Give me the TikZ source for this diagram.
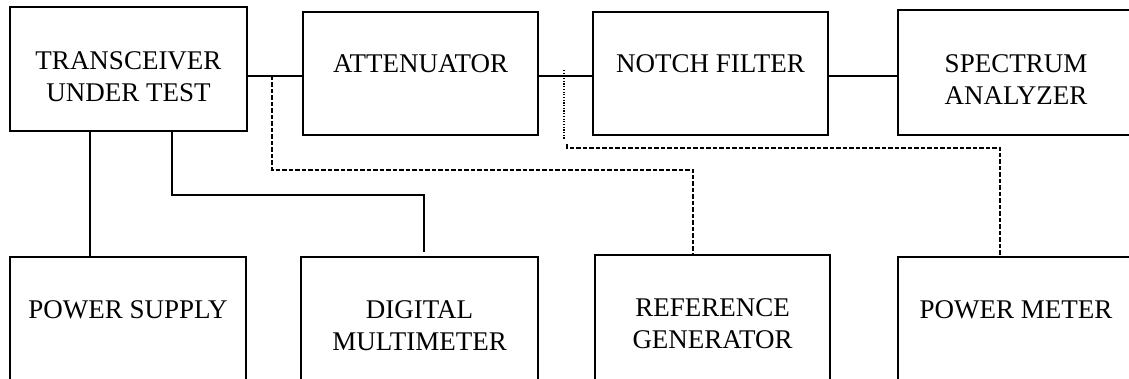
\documentclass[tikz,border=0pt]{standalone}
\usepackage{fontspec}
\setmainfont{Liberation Serif}
\begin{document}
\begin{tikzpicture}[x=1pt,y=-1pt,
  box/.style={draw=black,line width=1.3pt,rectangle,inner sep=0pt},
  lbl/.style={anchor=north,inner sep=0pt,align=center,text=black,
    font=\fontsize{27}{31.8}\selectfont},
  wire/.style={draw=black,line width=1.3pt},
  dashline/.style={draw=black,line width=1.3pt,dash pattern=on 4.5pt off 2pt},
  dotline/.style={draw=black,line width=1.3pt,dash pattern=on 1.2pt off 1.5pt}]
\useasboundingbox (0,0) rectangle (1129,379);
\clip (0,0) rectangle (1129,379);
% boxes
\node[box,minimum width=237pt,minimum height=124pt] (tx) at (128.5,69) {};
\node[box,minimum width=235pt,minimum height=123pt] (att) at (420.5,73.5) {};
\node[box,minimum width=235pt,minimum height=123pt] (nf) at (710.5,73.5) {};
\node[box,minimum width=236pt,minimum height=125pt] (sa) at (1016,72.5) {};
\node[box,minimum width=236pt,minimum height=143pt] (ps) at (128,328.5) {};
\node[box,minimum width=237pt,minimum height=143pt] (dm) at (419.5,328.5) {};
\node[box,minimum width=235pt,minimum height=145pt] (rg) at (712.5,327.5) {};
\node[box,minimum width=236pt,minimum height=143pt] (pm) at (1016,328.5) {};
% labels
\node[lbl] (txl) at ([yshift=-45pt]tx.north) {TRANSCEIVER\\UNDER TEST};
\node[lbl] (attl) at ([yshift=-43pt]att.north) {ATTENUATOR};
\node[lbl] (nfl) at ([yshift=-43pt]nf.north) {NOTCH FILTER};
\node[lbl] (sal) at ([yshift=-45pt]sa.north) {SPECTRUM\\ANALYZER};
\node[lbl] (psl) at ([yshift=-44pt]ps.north) {POWER SUPPLY};
\node[lbl] (dml) at ([yshift=-44pt]dm.north) {DIGITAL\\MULTIMETER};
\node[lbl] (rgl) at ([yshift=-44pt]rg.north) {REFERENCE\\GENERATOR};
\node[lbl] (pml) at ([yshift=-44pt]pm.north) {POWER METER};
% helper coordinates
\coordinate (bus) at (0,76);
\coordinate (c1) at (90,0);
\coordinate (c2) at (172,0);
\coordinate (e1) at (424,195);
\coordinate (j1) at (272,76);
\coordinate (e2) at (693,170);
\coordinate (j2) at (564,70);
\coordinate (j2b) at (564,140);
\coordinate (j3) at (567,144);
\coordinate (e3) at (1000,148);
% signal chain
\draw[wire] (tx.east |- bus) -- (att.west |- bus);
\draw[wire] (att.east |- bus) -- (nf.west |- bus);
\draw[wire] (nf.east |- bus) -- (sa.west |- bus);
% supply and meter
\draw[wire] (tx.south -| c1) -- (ps.north -| c1);
\draw[wire] (tx.south -| c2) |- (e1) -- ([yshift=4pt]dm.north -| e1);
% reference generator
\draw[dashline] (j1) |- (e2) -- (rg.north -| e2);
% power meter
\draw[dotline] (j2) -- (j2b);
\draw[dashline] (j3) |- (e3) -- (pm.north -| e3);
\end{tikzpicture}
\end{document}
